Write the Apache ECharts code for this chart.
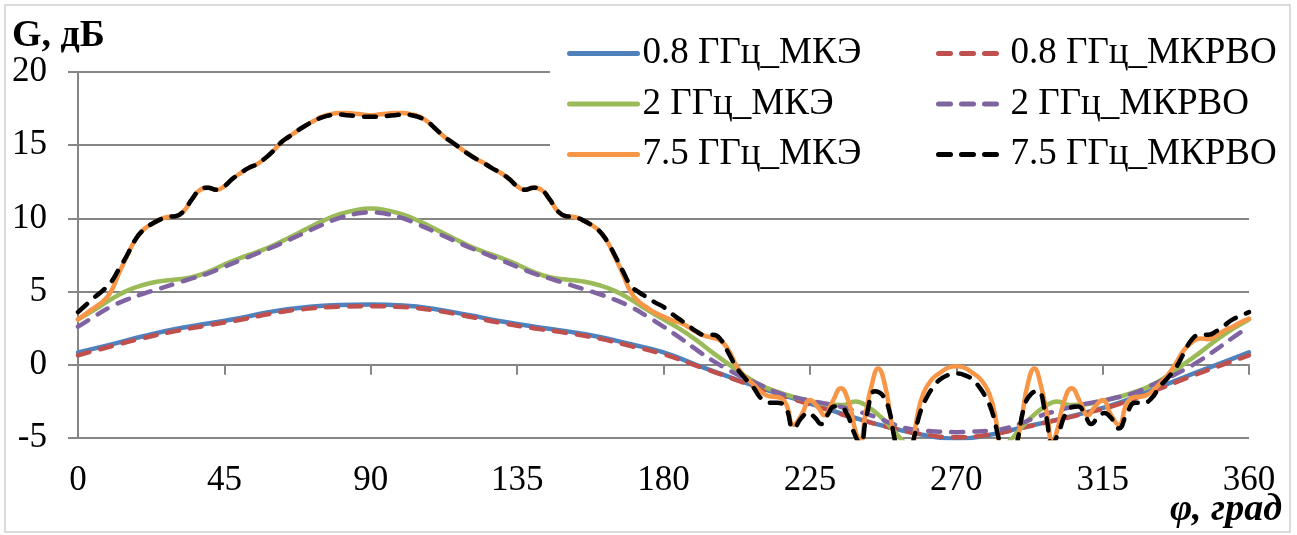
<!DOCTYPE html>
<html>
<head>
<meta charset="utf-8">
<script src="https://cdn.jsdelivr.net/npm/echarts@6/dist/echarts.min.js"></script>
<style>
  html, body { margin: 0; padding: 0; background: #fff; }
  #chart { width: 1297px; height: 535px; }
</style>
</head>
<body>
<div id="chart"></div>
<script>
// Gain G (dB) versus azimuth φ (deg) — FEM (МКЭ) vs ray method (МКРВО)
var xTicks = [0, 45, 90, 135, 180, 225, 270, 315, 360];
var yTicks = [-5, 0, 5, 10, 15, 20];

var seriesNames = [
  '0.8 ГГц_МКЭ', '0.8 ГГц_МКРВО',
  '2 ГГц_МКЭ', '2 ГГц_МКРВО',
  '7.5 ГГц_МКЭ', '7.5 ГГц_МКРВО'
];

// [φ, G] pairs
var g08fem = [
  [0,0.85],[10,1.38],[20,1.95],[30,2.45],[40,2.82],[50,3.2],[60,3.65],[70,3.93],[80,4.08],[90,4.12],
  [100,4.05],[110,3.8],[120,3.4],[130,2.98],[140,2.62],[150,2.3],[160,1.92],[170,1.4],[180,0.85],
  [190,0.0],[200,-0.8],[210,-1.6],[220,-2.3],[230,-3.0],[240,-3.7],[250,-4.3],[260,-4.8],[270,-5.05],
  [280,-4.8],[290,-4.3],[300,-3.8],[310,-3.25],[320,-2.6],[330,-1.75],[340,-0.85],[350,0.0],[360,0.85]
];
var g08ray = [
  [0,0.65],[10,1.25],[20,1.82],[30,2.3],[40,2.7],[50,3.08],[60,3.52],[70,3.82],[80,3.96],[90,4.0],
  [100,3.94],[110,3.7],[120,3.3],[130,2.86],[140,2.5],[150,2.18],[160,1.8],[170,1.28],[180,0.72],
  [190,-0.05],[200,-0.85],[210,-1.65],[220,-2.35],[230,-3.05],[240,-3.72],[250,-4.3],[260,-4.75],[270,-4.95],
  [280,-4.78],[290,-4.32],[300,-3.82],[310,-3.3],[320,-2.68],[330,-1.85],[340,-0.98],[350,-0.15],[360,0.65]
];
var g2fem = [
  [0,3.1],[5,3.75],[10,4.45],[15,5.05],[20,5.45],[25,5.7],[30,5.82],[35,5.98],[40,6.35],[45,6.85],
  [50,7.3],[55,7.7],[60,8.15],[65,8.7],[70,9.25],[75,9.8],[80,10.25],[85,10.55],[90,10.68],
  [95,10.55],[100,10.25],[105,9.8],[110,9.25],[115,8.7],[120,8.15],[125,7.7],[130,7.3],[135,6.85],
  [140,6.35],[145,5.98],[150,5.82],[155,5.7],[160,5.45],[165,5.05],[170,4.45],[175,3.75],[180,3.1],
  [185,2.45],[190,1.7],[195,0.85],[200,0.05],[205,-0.75],[210,-1.4],[215,-1.85],[220,-2.2],[225,-2.45],
  [230,-2.7],[235,-2.75],[239,-2.5],[243,-2.9],[247,-3.6],[250,-4.3],[255,-5.5],[260,-6.2],[265,-6.5],
  [270,-6.6],[275,-6.5],[280,-6.2],[285,-5.5],[290,-4.3],[293,-3.6],[297,-2.9],[301,-2.5],[305,-2.75],
  [310,-2.7],[315,-2.45],[320,-2.2],[325,-1.85],[330,-1.4],[335,-0.75],[340,0.05],[345,0.85],[350,1.7],
  [355,2.45],[360,3.1]
];
var g2ray = [
  [0,2.6],[5,3.3],[10,3.95],[15,4.45],[20,4.85],[25,5.2],[30,5.55],[35,5.9],[40,6.25],[45,6.7],
  [50,7.15],[55,7.6],[60,8.05],[65,8.55],[70,9.05],[75,9.55],[80,10.0],[85,10.3],[90,10.4],
  [95,10.3],[100,10.0],[105,9.55],[110,9.05],[115,8.55],[120,8.05],[125,7.6],[130,7.15],[135,6.7],
  [140,6.25],[145,5.9],[150,5.55],[155,5.2],[160,4.85],[165,4.45],[170,3.95],[175,3.3],[180,2.6],
  [185,1.85],[190,1.05],[195,0.3],[200,-0.35],[205,-0.9],[210,-1.4],[215,-1.9],[220,-2.2],[225,-2.45],
  [230,-2.65],[235,-2.9],[240,-3.2],[245,-3.55],[250,-4.0],[255,-4.35],[260,-4.5],[265,-4.57],[270,-4.6],
  [275,-4.57],[280,-4.5],[285,-4.35],[290,-4.0],[295,-3.55],[300,-3.2],[305,-2.9],[310,-2.65],[315,-2.45],
  [320,-2.2],[325,-1.9],[330,-1.4],[335,-0.9],[340,-0.35],[345,0.3],[350,1.05],[355,1.85],[360,2.6]
];
var g75fem = [
  [0,3.1],[2.5,3.5],[5,3.9],[7.5,4.3],[10,4.95],[12.5,6.2],[15,7.4],[17.5,8.5],[20,9.2],[22.5,9.6],
  [25,9.9],[27.5,10.1],[30,10.15],[32.5,10.5],[35,11.3],[37.5,11.95],[40,12.1],[42.5,11.95],[45,12.2],
  [47.5,12.7],[50,13.1],[52.5,13.45],[55,13.7],[57.5,14.1],[60,14.6],[62.5,15.2],[65,15.6],[67.5,16.0],
  [70,16.35],[72.5,16.65],[75,16.95],[77.5,17.1],[80,17.2],[82.5,17.2],[85,17.15],[87.5,17.1],[90,17.05],
  [92.5,17.1],[95,17.15],[97.5,17.2],[100,17.2],[102.5,17.1],[105,16.95],[107.5,16.6],[110,16.1],
  [112.5,15.6],[115,15.2],[117.5,14.8],[120,14.4],[122.5,14.05],[125,13.75],[127.5,13.4],[130,13.1],
  [132.5,12.7],[135,12.2],[137.5,11.95],[140,12.1],[142.5,11.95],[145,11.3],[147.5,10.5],[150,10.15],
  [152.5,10.1],[155,9.9],[157.5,9.6],[160,9.2],[162.5,8.5],[165,7.4],[167.5,6.2],[170,4.95],[172.5,4.3],
  [175,3.9],[177.5,3.55],[180,3.3],
  [182.5,3.05],[185,2.9],[187.5,2.6],[190,2.25],[192.5,2.0],[195,1.85],[197.5,1.65],[200,1.0],
  [202.5,-0.1],[205,-0.8],[207.5,-1.3],[210,-1.85],[212.5,-2.15],[215,-2.2],[217.5,-2.6],[220,-4.1],
  [222.5,-3.4],[225,-2.4],[227.5,-2.9],[229.5,-3.45],[232,-2.5],[234.5,-1.6],[237,-2.6],[239,-4.5],
  [240.5,-5.3],[242,-3.5],[244,-1.4],[246,-0.25],[248,-1.3],[250,-3.8],[252,-6],[254,-7.5],[256,-6.5],
  [258,-3.5],[260,-1.9],[262.5,-1.0],[265,-0.55],[267.5,-0.2],[270,-0.1],
  [272.5,-0.2],[275,-0.55],[277.5,-1.0],[280,-1.9],[282,-3.5],[284,-6.5],[286,-7.5],[288,-6],[290,-3.8],
  [292,-1.3],[294,-0.25],[296,-1.4],[298,-3.5],[299.5,-5.3],[301,-4.5],[303,-2.6],[305.5,-1.6],[308,-2.5],
  [310.5,-3.45],[312.5,-2.9],[315,-2.4],[317.5,-3.4],[320,-4.1],[322.5,-2.6],[325,-2.2],[327.5,-2.15],
  [330,-1.85],[332.5,-1.3],[335,-0.7],[337.5,0.1],[340,1.0],[342.5,1.55],[345,1.8],[347.5,1.75],
  [350,2.0],[352.5,2.35],[355,2.6],[357.5,2.9],[360,3.15]
];
var g75ray = [
  [0,3.6],[2.5,4.1],[5,4.6],[7.5,5.05],[10,5.6],[12.5,6.5],[15,7.45],[17.5,8.5],[20,9.2],[22.5,9.6],
  [25,9.9],[27.5,10.1],[30,10.15],[32.5,10.5],[35,11.3],[37.5,11.95],[40,12.1],[42.5,11.95],[45,12.2],
  [47.5,12.7],[50,13.1],[52.5,13.45],[55,13.7],[57.5,14.1],[60,14.6],[62.5,15.2],[65,15.6],[67.5,16.0],
  [70,16.35],[72.5,16.65],[75,16.9],[77.5,17.05],[80,17.1],[82.5,17.05],[85,17.0],[87.5,16.95],[90,16.95],
  [92.5,16.95],[95,17.0],[97.5,17.05],[100,17.1],[102.5,17.05],[105,16.9],[107.5,16.6],[110,16.1],
  [112.5,15.6],[115,15.2],[117.5,14.8],[120,14.4],[122.5,14.05],[125,13.75],[127.5,13.4],[130,13.1],
  [132.5,12.7],[135,12.2],[137.5,11.95],[140,12.1],[142.5,11.95],[145,11.3],[147.5,10.5],[150,10.15],
  [152.5,10.1],[155,9.9],[157.5,9.6],[160,9.2],[162.5,8.5],[165,7.5],[167.5,6.4],[170,5.4],[172.5,4.95],
  [175,4.6],[177.5,4.25],[180,3.95],
  [182.5,3.5],[185,3.1],[187.5,2.7],[190,2.3],[192.5,2.05],[195,2.05],[197.5,1.75],[200,0.8],
  [202.5,-0.2],[205,-0.9],[207.5,-1.5],[210,-2.3],[212.5,-2.6],[215,-2.6],[217.5,-2.9],[220,-4.35],
  [222.5,-3.6],[224.5,-3.3],[226.5,-3.6],[228.5,-4.05],[230.5,-3.4],[232.5,-2.85],[234.5,-2.9],
  [236.5,-3.4],[238.5,-4.6],[240.5,-5.4],[242.5,-3.4],[245,-1.8],[247,-2.0],[249,-2.8],[251,-5.0],
  [253,-7],[255,-6.8],[257,-5.0],[259,-3.2],[261,-2.2],[263,-1.5],[265,-1.0],[267.5,-0.7],[270,-0.6],
  [272.5,-0.7],[275,-1.0],[277,-1.5],[279,-2.2],[281,-3.2],[283,-5.0],[285,-6.8],[287,-7],[289,-5.0],
  [291,-2.8],[293,-2.0],[295,-1.8],[297.5,-3.4],[299.5,-5.4],[301.5,-4.6],[303.5,-3.4],[305.5,-2.9],
  [307.5,-2.85],[309.5,-3.4],[311.5,-4.05],[313.5,-3.6],[315.5,-3.3],[317.5,-3.6],[320,-4.35],
  [322.5,-3.3],[325,-2.6],[327.5,-2.6],[330,-2.3],[332.5,-1.5],[335,-0.9],[337.5,-0.2],[340,0.8],
  [342.5,1.75],[345,2.05],[347.5,2.05],[350,2.3],[352.5,2.7],[355,3.1],[357.5,3.35],[360,3.6]
];

var seriesData = [g08fem, g08ray, g2fem, g2ray, g75fem, g75ray];
var seriesColors = ['#4F81BD', '#C0504D', '#9BBB59', '#8064A2', '#F79646', '#000000'];
var seriesDashed = [false, true, false, true, false, true];

var FONT = '"Liberation Serif", "Times New Roman", serif';
var GRID = '#868686';
var DASH = [12, 11];

var chart = echarts.init(document.getElementById('chart'), null, { renderer: 'canvas' });

var series = seriesData.map(function (d, i) {
  return {
    name: seriesNames[i],
    type: 'line',
    data: d,
    xAxisIndex: 0,
    yAxisIndex: 0,
    smooth: 0.5,
    symbol: 'none',
    clip: true,
    animation: false,
    z: 2 + i * 0.1,
    lineStyle: {
      color: seriesColors[i],
      width: 4.5,
      type: seriesDashed[i] ? DASH : 'solid',
      cap: 'round',
      join: 'round'
    },
    itemStyle: { color: seriesColors[i] }
  };
});

// two legend columns: solid (МКЭ) on the left, dashed (МКРВО) on the right
function legendBlock(names, left, itemWidth, textPad) {
  return {
    orient: 'vertical',
    left: left,
    top: 35,
    padding: 0,
    itemGap: 13.5,
    itemWidth: itemWidth,
    itemHeight: 14,
    selectedMode: false,
    data: names,
    lineStyle: { width: 5, type: 'inherit', cap: 'round' },
    itemStyle: { color: 'rgba(0,0,0,0)', borderWidth: 0, opacity: 0 },
    textStyle: {
      fontFamily: FONT,
      fontSize: 37,
      lineHeight: 37,
      color: '#000',
      padding: [0, 0, 0, textPad]
    }
  };
}

var option = {
  animation: false,
  backgroundColor: '#fff',
  grid: { left: 78, right: 48, top: 72, bottom: 97, containLabel: false },
  xAxis: [
    {
      type: 'value', min: 0, max: 360, interval: 45,
      axisLine: { show: true, onZero: true, lineStyle: { color: GRID, width: 2 } },
      axisTick: { show: true, length: 10, inside: false, lineStyle: { color: GRID, width: 2 } },
      axisLabel: { show: false },
      splitLine: { show: false }
    },
    {
      type: 'value', min: 0, max: 360, interval: 45, position: 'bottom',
      axisLine: { show: false, onZero: false },
      axisTick: { show: false },
      splitLine: { show: false },
      axisLabel: {
        show: true, margin: 25, color: '#000', fontFamily: FONT, fontSize: 35,
        formatter: function (v) { return xTicks.indexOf(v) >= 0 ? String(v) : ''; }
      }
    }
  ],
  yAxis: {
    type: 'value', min: yTicks[0], max: yTicks[yTicks.length - 1], interval: 5,
    axisLine: { show: true, onZero: false, lineStyle: { color: GRID, width: 2 } },
    axisTick: { show: true, length: 10, inside: false, lineStyle: { color: GRID, width: 2 } },
    splitLine: { show: true, lineStyle: { color: GRID, width: 2 } },
    axisLabel: { margin: 31, color: '#000', fontFamily: FONT, fontSize: 35 }
  },
  legend: [
    legendBlock([seriesNames[0], seriesNames[2], seriesNames[4]], 567, 68, 0),
    legendBlock([seriesNames[1], seriesNames[3], seriesNames[5]], 936, 58, 9)
  ],
  graphic: [
    {
      type: 'rect', z: 3, silent: true,
      shape: { x: 550, y: 14, width: 735, height: 170 },
      style: { fill: '#fff' }
    },
    {
      type: 'rect', z: 10, silent: true,
      shape: { x: 5, y: 5, width: 1285, height: 527 },
      style: { fill: null, stroke: '#d0d0d0', lineWidth: 1.5 }
    },
    {
      type: 'text', z: 10, silent: true,
      style: {
        x: 12, y: 36, text: 'G, дБ', fill: '#000',
        font: 'bold 38px "Liberation Serif", "Times New Roman", serif',
        textAlign: 'left', textVerticalAlign: 'middle', align: 'left', verticalAlign: 'middle'
      }
    },
    {
      type: 'text', z: 10, silent: true,
      style: {
        x: 1282, y: 510, text: 'φ, град', fill: '#000',
        font: 'italic bold 38px "Liberation Serif", "Times New Roman", serif',
        textAlign: 'right', textVerticalAlign: 'middle', align: 'right', verticalAlign: 'middle'
      }
    }
  ],
  series: series
};

chart.setOption(option);
</script>
</body>
</html>
